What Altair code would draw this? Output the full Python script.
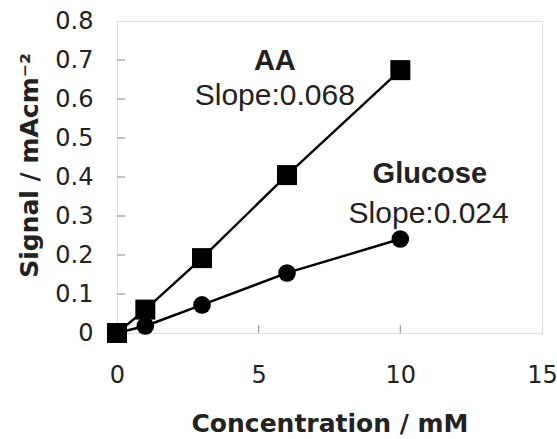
import altair as alt
import pandas as pd

# Calibration data: concentration (mM) vs signal (mA cm^-2)
conc = [0, 1, 3, 6, 10]
aa_signal = [0.0, 0.06, 0.192, 0.405, 0.674]
glucose_signal = [0.0, 0.018, 0.072, 0.154, 0.241]

# Annotation text and baseline positions (data coordinates)
label_text = ["AA", "Slope:0.068", "Glucose", "Slope:0.024"]
label_x = [5.57, 5.57, 11.04, 11.0]
label_y = [0.674, 0.585, 0.385, 0.282]
label_bold = [True, False, True, False]

x_ticks = [0, 5, 10, 15]
y_ticks = [0, 0.1, 0.2, 0.3, 0.4, 0.5, 0.6, 0.7, 0.8]

W, H = 425, 312
AXIS_FONT = "DejaVu Sans"
NOTE_FONT = "Liberation Sans"
AXIS_GRAY = "#9a9a9a"
TEXT = "#222222"
X_TITLE = "Concentration / mM"
Y_TITLE = "Signal / mAcm⁻²"

df = pd.DataFrame(
    {"conc": conc * 2,
     "signal": aa_signal + glucose_signal,
     "series": ["AA"] * len(conc) + ["Glucose"] * len(conc)}
)
labels = pd.DataFrame({"text": label_text, "x": label_x, "y": label_y, "bold": label_bold})

xs = alt.Scale(domain=[0, 15], nice=False)
ys = alt.Scale(domain=[0, 0.8], nice=False)

x_axis = alt.Axis(values=x_ticks, format="d", ticks=False, domain=False, grid=False,
                  labelPadding=30, labelFontSize=24, labelOverlap=False, labelFlush=False,
                  labelColor=TEXT, labelFont=AXIS_FONT,
                  titleFontSize=25, titleFontWeight="bold", titleColor=TEXT,
                  titleFont=AXIS_FONT, titleX=W / 2, titleY=90,
                  titleBaseline="middle", titleAlign="center")
y_axis = alt.Axis(values=y_ticks,
                  labelExpr="datum.value == 0 ? '0' : format(datum.value, '.1f')",
                  ticks=False, domain=False, grid=False,
                  labelPadding=24, labelFontSize=24, labelOverlap=False, labelFlush=False,
                  labelColor=TEXT, labelFont=AXIS_FONT,
                  titleFontSize=25, titleFontWeight="bold", titleColor=TEXT,
                  titleFont=AXIS_FONT, titleX=-88, titleY=144, titleAngle=-90,
                  titleBaseline="middle", titleAlign="center")


def X(field):
    return alt.X(f"{field}:Q", scale=xs, axis=x_axis, title=X_TITLE)


def Y(field):
    return alt.Y(f"{field}:Q", scale=ys, axis=y_axis, title=Y_TITLE)


lines = alt.Chart(df).mark_line(color="black", strokeWidth=2.4).encode(
    x=X("conc"), y=Y("signal"), detail="series:N"
)
pts_aa = alt.Chart(df[df.series == "AA"]).mark_point(
    shape="square", filled=True, color="black", opacity=1, size=400
).encode(x=X("conc"), y=Y("signal"))
pts_gl = alt.Chart(df[df.series == "Glucose"]).mark_point(
    shape="circle", filled=True, color="black", opacity=1, size=310
).encode(x=X("conc"), y=Y("signal"))

# inward tick marks
xt = pd.DataFrame({"v": [t for t in x_ticks if 0 < t < 15]})
yt = pd.DataFrame({"v": [t for t in y_ticks if 0 < t < 0.8]})
xtick_marks = alt.Chart(xt).mark_rule(color=AXIS_GRAY, strokeWidth=1.2).encode(
    x=X("v"), y=alt.value(H), y2=alt.value(H - 8)
)
ytick_marks = alt.Chart(yt).mark_rule(color=AXIS_GRAY, strokeWidth=1.2).encode(
    y=Y("v"), x=alt.value(0), x2=alt.value(8)
)

bold_text = alt.Chart(labels[labels.bold]).mark_text(
    font=NOTE_FONT, fontSize=29, fontWeight="bold", color=TEXT, baseline="alphabetic"
).encode(x=X("x"), y=Y("y"), text="text:N")
plain_text = alt.Chart(labels[~labels.bold]).mark_text(
    font=NOTE_FONT, fontSize=30, color=TEXT, baseline="alphabetic"
).encode(x=X("x"), y=Y("y"), text="text:N")

chart = alt.layer(
    lines, xtick_marks, ytick_marks, pts_aa, pts_gl, bold_text, plain_text
).properties(
    width=W, height=H,
    autosize=alt.AutoSizeParams(type="none"),
    padding={"left": 117, "top": 21, "right": 15, "bottom": 106},
).configure_view(
    stroke=AXIS_GRAY, strokeWidth=1.5
).configure(background="white")

chart.save("out.html", embed_options={"renderer": "svg", "actions": False})
